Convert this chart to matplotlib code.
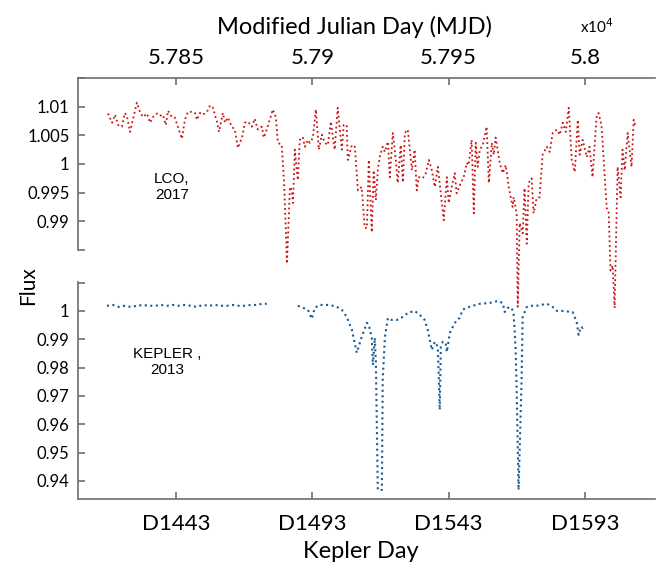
import numpy as np
import matplotlib
matplotlib.use("Agg")
import matplotlib.pyplot as plt

plt.rcParams['font.family'] = ['Lato', 'DejaVu Sans']

# LCO 2017 light curve (Kepler-day axis, relative flux)
lco_day = [1418.1, 1419.6, 1420.7, 1421.8, 1423.2, 1424.3, 1425.1, 1426.2, 1427.2, 1428.7,
           1429.8, 1430.9, 1432.4, 1433.5, 1434.6, 1436.0, 1437.1, 1438.2, 1439.3, 1440.1,
           1441.5, 1442.6, 1443.7, 1445.2, 1446.3, 1447.4, 1448.9, 1450.0, 1450.7, 1451.8,
           1452.9, 1454.4, 1455.5, 1456.6, 1458.0, 1458.8, 1460.2, 1461.0, 1462.0, 1463.5,
           1464.6, 1465.7, 1467.2, 1468.3, 1469.4, 1470.8, 1471.9, 1473.0, 1474.5, 1475.2,
           1476.3, 1477.4, 1478.5, 1479.6, 1480.4, 1481.8, 1482.6, 1483.3, 1483.7, 1484.8,
           1485.5, 1485.9, 1486.6, 1487.3, 1487.7, 1488.4, 1489.5, 1490.3, 1491.4, 1492.1,
           1493.2, 1494.3, 1495.4, 1496.5, 1497.6, 1498.7, 1499.8, 1500.5, 1501.2, 1502.3,
           1503.1, 1503.8, 1504.5, 1505.6, 1506.0, 1507.5, 1508.6, 1509.7, 1511.1, 1512.2,
           1513.0, 1513.7, 1514.8, 1515.5, 1516.3, 1517.0, 1517.7, 1518.8, 1519.6, 1520.7,
           1521.4, 1522.5, 1523.6, 1524.3, 1525.4, 1526.2, 1526.9, 1528.0, 1529.5, 1530.5,
           1531.3, 1532.0, 1533.5, 1534.6, 1535.7, 1536.8, 1537.9, 1539.0, 1540.1, 1541.2,
           1542.3, 1543.0, 1544.1, 1545.2, 1545.9, 1547.4, 1548.5, 1549.6, 1550.3, 1551.4,
           1552.2, 1552.9, 1553.6, 1554.4, 1555.5, 1556.9, 1557.7, 1558.8, 1559.5, 1560.2,
           1561.7, 1562.8, 1563.9, 1565.0, 1566.4, 1566.8, 1567.9, 1568.3, 1569.0, 1570.1,
           1570.8, 1571.6, 1572.3, 1573.4, 1574.1, 1575.2, 1576.3, 1577.4, 1578.9, 1580.0,
           1581.1, 1582.6, 1583.7, 1584.8, 1585.9, 1587.0, 1588.1, 1589.2, 1590.3, 1591.0,
           1592.1, 1593.6, 1594.6, 1595.7, 1597.2, 1597.9, 1599.0, 1600.9, 1601.6, 1602.3,
           1603.1, 1603.8, 1604.9, 1606.0, 1606.7, 1607.5, 1608.6, 1610.0, 1610.8, 1611.5]
lco_flux = [1.0088, 1.0072, 1.0086, 1.0068, 1.0065, 1.0089, 1.0082, 1.0056, 1.0077, 1.0107,
            1.0091, 1.0082, 1.0088, 1.0072, 1.0082, 1.0088, 1.0084, 1.0086, 1.0068, 1.0093,
            1.0082, 1.0081, 1.0065, 1.0044, 1.0077, 1.0091, 1.0091, 1.0089, 1.0077, 1.0089,
            1.0086, 1.0091, 1.0102, 1.0098, 1.0074, 1.0056, 1.0089, 1.0072, 1.0081, 1.0065,
            1.0060, 1.0028, 1.0046, 1.0072, 1.0074, 1.0065, 1.0079, 1.0060, 1.0065, 1.0046,
            1.0060, 1.0077, 1.0095, 1.0082, 1.0037, 1.0033, 0.9972, 0.9884, 0.9826, 0.9960,
            0.9954, 0.9932, 1.0025, 0.9989, 0.9972, 1.0042, 1.0047, 1.0030, 1.0042, 1.0037,
            1.0046, 1.0095, 1.0025, 1.0051, 1.0037, 1.0033, 1.0074, 1.0047, 1.0025, 1.0098,
            1.0060, 1.0025, 1.0068, 1.0068, 1.0007, 1.0033, 1.0030, 0.9954, 0.9960, 0.9889,
            0.9888, 1.0007, 0.9881, 0.9989, 0.9937, 0.9989, 1.0012, 1.0030, 1.0021, 1.0039,
            0.9977, 1.0054, 1.0007, 0.9967, 1.0033, 0.9968, 1.0054, 1.0060, 0.9989, 1.0025,
            0.9954, 0.9977, 0.9975, 0.9984, 1.0007, 0.9989, 0.9960, 0.9995, 0.9949, 0.9902,
            0.9977, 0.9932, 0.9960, 0.9984, 0.9949, 0.9967, 0.9977, 1.0002, 0.9998, 1.0042,
            0.9914, 1.0037, 0.9995, 1.0025, 1.0033, 1.0065, 0.9967, 1.0037, 1.0016, 1.0046,
            1.0002, 0.9984, 0.9998, 0.9960, 0.9925, 0.9942, 0.9914, 0.9751, 0.9897, 0.9879,
            0.9958, 0.9861, 0.9967, 0.9975, 0.9914, 0.9940, 0.9942, 1.0016, 1.0030, 1.0021,
            1.0054, 1.0060, 1.0051, 1.0072, 1.0056, 1.0098, 1.0007, 0.9986, 1.0077, 1.0016,
            1.0042, 1.0012, 1.0030, 0.9977, 1.0082, 1.0089, 1.0068, 0.9923, 0.9919, 0.9814,
            0.9823, 0.9749, 0.9995, 0.9942, 1.0025, 0.9989, 1.0054, 0.9995, 1.0077, 1.0065]

# Kepler 2013 light curve, two segments with a gap
kep_day_a = [1417.7, 1419.9, 1422.1, 1424.3, 1426.5, 1428.7, 1430.9, 1433.1, 1435.3, 1437.5,
             1439.7, 1441.9, 1444.1, 1446.3, 1448.5, 1450.7, 1452.9, 1455.1, 1457.3, 1459.5,
             1461.7, 1463.9, 1466.1, 1468.3, 1470.5, 1472.7, 1474.5, 1476.3]
kep_flux_a = [1.0018, 1.0021, 1.0014, 1.0018, 1.0014, 1.0018, 1.0021, 1.0018, 1.0018, 1.0021,
              1.0018, 1.0021, 1.0018, 1.0021, 1.0018, 1.0014, 1.0021, 1.0018, 1.0021, 1.0018,
              1.0018, 1.0021, 1.0018, 1.0018, 1.0021, 1.0021, 1.0025, 1.0025]
kep_day_b = [1487.7, 1489.5, 1491.4, 1492.8, 1493.9, 1495.7, 1499.4, 1502.0, 1503.8, 1505.6,
             1507.5, 1509.3, 1511.1, 1513.0, 1513.7, 1514.8, 1515.2, 1515.9, 1516.3, 1517.0,
             1518.5, 1518.8, 1519.6, 1520.7, 1522.1, 1524.0, 1526.2, 1528.0, 1530.5, 1532.4,
             1534.2, 1535.3, 1536.8, 1537.9, 1539.0, 1539.7, 1540.1, 1540.8, 1541.9, 1542.3,
             1543.4, 1544.5, 1545.9, 1547.0, 1548.1, 1549.6, 1551.8, 1554.4, 1558.0, 1561.0,
             1562.8, 1563.5, 1564.6, 1566.1, 1566.8, 1567.5, 1567.9, 1568.6, 1569.7, 1570.1,
             1571.6, 1572.7, 1575.2, 1578.9, 1580.7, 1582.6, 1584.4, 1588.4, 1589.9, 1590.6,
             1591.4, 1592.1, 1592.8]
kep_flux_b = [1.0018, 1.0011, 1.0004, 0.9972, 1.0011, 1.0021, 1.0021, 1.0014, 1.0004, 0.9979,
              0.9933, 0.9852, 0.9908, 0.9958, 0.9951, 0.9905, 0.9809, 0.9905, 0.9816, 0.9368,
              0.9368, 0.9756, 0.9908, 0.9975, 0.9968, 0.9968, 0.9979, 0.9993, 1.0000, 0.9986,
              0.9968, 0.9933, 0.9862, 0.9891, 0.9873, 0.9651, 0.9873, 0.9891, 0.9887, 0.9855,
              0.9922, 0.9944, 0.9968, 0.9975, 1.0004, 1.0011, 1.0018, 1.0025, 1.0028, 1.0035,
              1.0028, 0.9996, 1.0011, 1.0011, 0.9986, 0.9873, 0.9721, 0.9368, 0.9756, 0.9979,
              1.0014, 1.0018, 1.0018, 1.0025, 1.0018, 1.0000, 1.0000, 0.9996, 0.9961, 0.9915,
              0.9944, 0.9940, 0.9947]

kepler_ticks = [1443, 1493, 1543, 1593]
kepler_labels = ['D1443', 'D1493', 'D1543', 'D1593']
mjd_ticks = [5.785, 5.79, 5.795, 5.8]   # x10^4
mjd_labels = ['5.785', '5.79', '5.795', '5.8']
mjd_offset = 56407  # MJD = Kepler day + offset

top_yticks = [0.985, 0.99, 0.995, 1.0, 1.005, 1.01, 1.015]
top_ylabels = ['', '0.99', '0.995', '1', '1.005', '1.01', '']
bot_yticks = [0.94, 0.95, 0.96, 0.97, 0.98, 0.99, 1.0, 1.01]
bot_ylabels = ['0.94', '0.95', '0.96', '0.97', '0.98', '0.99', '1', '']

spine_col = '#6e6e6e'
xlim = (1407.1, 1618.5)
narrow = ['Liberation Sans Narrow', 'Liberation Sans', 'DejaVu Sans']

fig = plt.figure(figsize=(6.58, 5.65), dpi=100)
ax1 = fig.add_axes([0.1185, 0.5575, 0.8765, 0.3045])
ax2 = fig.add_axes([0.1185, 0.1168, 0.8765, 0.3841])

for ax in (ax1, ax2):
    ax.set_xlim(*xlim)
    for s in ax.spines.values():
        s.set_color(spine_col)
        s.set_linewidth(1.2)
    ax.spines['right'].set_visible(False)
    ax.tick_params(axis='y', direction='in', length=5, width=1.2, color=spine_col,
                   labelsize=12, pad=6)
# red dips run down into the lower panel, so keep its background see-through
ax2.patch.set_visible(False)

# top panel (LCO), MJD scale on the top axis
ax1.spines['bottom'].set_visible(False)
ax1.plot(lco_day, lco_flux, ls=':', color='#c81414', lw=1.3, clip_on=False, zorder=3)
ax1.set_ylim(0.985, 1.015)
ax1.set_yticks(top_yticks)
ax1.set_yticklabels(top_ylabels)
ax1.xaxis.tick_top()
ax1.xaxis.set_label_position('top')
ax1.set_xticks([m * 1e4 - mjd_offset for m in mjd_ticks])
ax1.set_xticklabels(mjd_labels)
ax1.tick_params(axis='x', direction='in', length=5, width=1.2, color=spine_col,
                labelsize=16, pad=7)
ax1.set_xlabel('Modified Julian Day (MJD)', fontsize=17, labelpad=10, x=0.48)
ax1.text(1441.5, 0.99597, 'LCO,\n2017', ha='center', va='center', fontsize=11,
         family=narrow)

# bottom panel (Kepler)
ax2.spines['top'].set_visible(False)
ax2.plot(kep_day_a, kep_flux_a, ls=':', color='#1c5a92', lw=1.5)
ax2.plot(kep_day_b, kep_flux_b, ls=':', color='#1c5a92', lw=1.5)
ax2.set_ylim(0.9336, 1.0102)
ax2.set_yticks(bot_yticks)
ax2.set_yticklabels(bot_ylabels)
ax2.set_xticks(kepler_ticks)
ax2.set_xticklabels(kepler_labels)
ax2.tick_params(axis='x', direction='in', length=5, width=1.2, color=spine_col,
                labelsize=16, pad=11)
ax2.set_xlabel('Kepler Day', fontsize=17, labelpad=5, x=0.49)
ax2.text(1439.7, 0.982, 'KEPLER ,\n2013', ha='center', va='center', fontsize=11,
         family=narrow)

fig.text(0.043, 0.495, 'Flux', rotation=90, ha='center', va='center', fontsize=15)
fig.text(0.882, 0.953, 'x10$^4$', ha='left', va='center', fontsize=11)

fig.savefig('out.png', dpi=100)
